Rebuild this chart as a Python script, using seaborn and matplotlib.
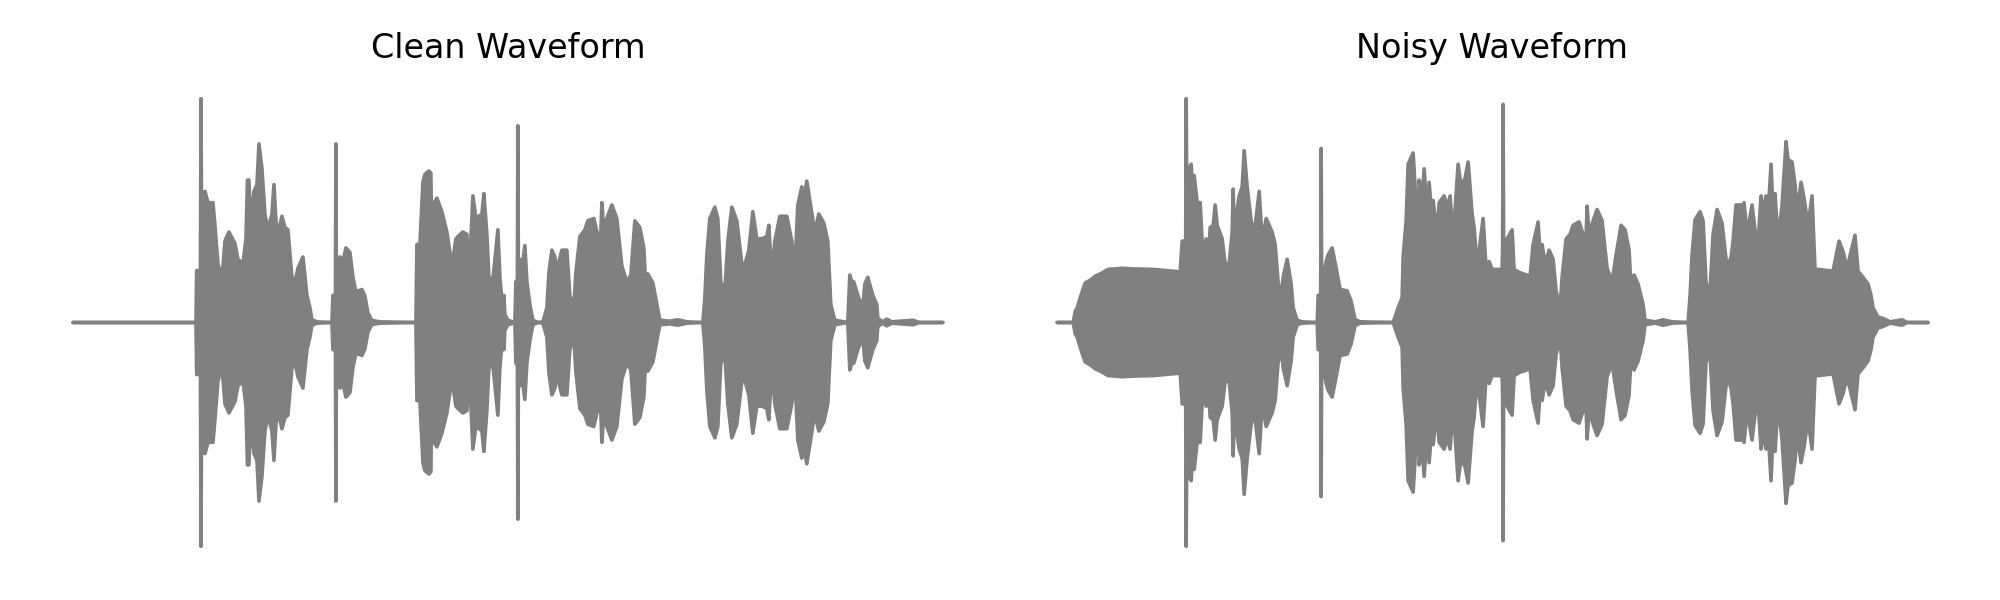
import numpy as np
import pandas as pd
import matplotlib
matplotlib.use('Agg')
import matplotlib.pyplot as plt
import seaborn as sns

# Waveform envelopes: time (s) and normalised amplitude
clean_time = [0, 1.23, 1.237, 1.26, 1.275, 1.28, 1.285, 1.32, 1.35, 1.40, 1.42, 1.45, 1.49, 1.52, 1.56, 1.62, 1.65, 1.70, 1.73, 1.745, 1.76, 1.775,
              1.81, 1.84, 1.86, 1.89, 1.92, 1.95, 1.99, 2.01, 2.03, 2.05, 2.09, 2.12, 2.15, 2.19, 2.22, 2.25, 2.30, 2.34, 2.37, 2.39, 2.44, 2.59,
              2.60, 2.625, 2.63, 2.635, 2.67, 2.70, 2.73, 2.77, 2.80, 2.83, 2.89, 2.92, 2.95, 2.99, 3.07, 3.43, 3.44, 3.47, 3.50, 3.52, 3.56, 3.58, 3.59,
              3.60, 3.64, 3.69, 3.74, 3.79, 3.83, 3.85, 3.90, 3.94, 3.96, 4.00, 4.03, 4.09, 4.11, 4.14, 4.16, 4.20, 4.25, 4.27, 4.30, 4.31, 4.32, 4.35,
              4.42, 4.43, 4.445, 4.45, 4.455, 4.47, 4.49, 4.52, 4.54, 4.57, 4.60, 4.65, 4.70, 4.74, 4.76, 4.79, 4.82, 4.84, 4.89, 4.94, 4.97, 5.01, 5.03,
              5.07, 5.12, 5.15, 5.21, 5.25, 5.28, 5.29, 5.31, 5.34, 5.39, 5.44, 5.49, 5.54, 5.58, 5.62, 5.67, 5.71, 5.73, 5.75, 5.80, 5.84, 5.87, 5.97,
              6.05, 6.14, 6.30, 6.32, 6.34, 6.37, 6.42, 6.45, 6.48, 6.52, 6.55, 6.59, 6.64, 6.69, 6.71, 6.76, 6.80, 6.84, 6.89, 6.94, 6.96, 6.99, 7.02,
              7.07, 7.14, 7.19, 7.22, 7.25, 7.29, 7.31, 7.34, 7.37, 7.42, 7.46, 7.51, 7.55, 7.58, 7.62, 7.75, 7.77, 7.79, 7.81, 7.85, 7.90, 7.92, 7.95,
              8.00, 8.04, 8.05, 8.10, 8.14, 8.19, 8.40, 8.47, 8.70]
clean_amp = [0, 0, .23, .23, .23, .99, .55, .58, .53, .53, .43, .26, .19, .36, .40, .35, .28, .26, .37, .63, .63, .43,
             .58, .61, .79, .68, .48, .41, .48, .61, .45, .39, .47, .42, .41, .20, .18, .24, .29, .12, .065, .013, .003, 0,
             .12, .12, .79, .12, .29, .27, .33, .31, .20, .136, .146, .116, .043, .009, .003, 0, .345, .345, .62, .655, .67, .66, .30,
             .52, .55, .49, .40, .25, .37, .38, .40, .39, .175, .56, .46, .48, .57, .39, .20, .19, .41, .20, .05, .12, .035, .01,
             0, .18, .19, .87, .19, .28, .24, .34, .18, .08, .01, 0, .003, .065, .22, .32, .29, .23, .32, .32, .12, .065, .22,
             .38, .41, .45, .46, .38, .40, .53, .40, .46, .52, .46, .25, .18, .21, .45, .42, .33, .15, .215, .175, .08, .01, .006,
             .012, .003, 0, .11, .30, .46, .51, .46, .18, .14, .36, .51, .45, .26, .24, .32, .49, .37, .37, .38, .43, .20, .36,
             .47, .47, .36, .23, .52, .60, .55, .625, .54, .40, .48, .44, .36, .08, .01, 0, .21, .18, .18, .12, .065, .17, .20,
             .12, .08, .018, .003, .015, .003, .01, 0, 0]

noisy_time = [0, .16, .18, .20, .23, .26, .28, .33, .38, .43, .51, .58, .65, .76, .96, 1.23, 1.25, 1.27, 1.285, 1.29, 1.295, 1.32, 1.34, 1.36, 1.37, 1.40, 1.43,
              1.46, 1.49, 1.51, 1.53, 1.56, 1.58, 1.60, 1.65, 1.68, 1.72, 1.75, 1.76, 1.77, 1.82, 1.85, 1.87, 1.90, 1.94, 1.97, 2.02, 2.05, 2.09, 2.15,
              2.18, 2.21, 2.24, 2.26, 2.30, 2.34, 2.36, 2.40, 2.45, 2.60, 2.61, 2.635, 2.64, 2.645, 2.69, 2.71, 2.75, 2.79, 2.83, 2.90, 2.94, 2.98, 3.03,
              3.36, 3.41, 3.45, 3.46, 3.49, 3.51, 3.56, 3.58, 3.61, 3.62, 3.65, 3.67, 3.70, 3.72, 3.75, 3.76, 3.80, 3.82, 3.87, 3.90, 3.93, 3.96, 4.01,
              4.04, 4.08, 4.11, 4.15, 4.17, 4.20, 4.26, 4.29, 4.32, 4.35, 4.45, 4.455, 4.46, 4.465, 4.50, 4.55, 4.57, 4.63, 4.73, 4.76, 4.81, 4.83, 4.85,
              4.88, 4.92, 4.96, 4.99, 5.03, 5.05, 5.09, 5.13, 5.16, 5.22, 5.26, 5.29, 5.30, 5.32, 5.36, 5.40, 5.45, 5.50, 5.55, 5.59, 5.64, 5.68, 5.72,
              5.74, 5.77, 5.81, 5.86, 5.88, 5.98, 6.06, 6.15, 6.31, 6.33, 6.35, 6.38, 6.43, 6.46, 6.49, 6.53, 6.56, 6.60, 6.65, 6.70, 6.74, 6.76, 6.79,
              6.84, 6.85, 6.87, 6.90, 6.95, 6.99, 7.00, 7.02, 7.04, 7.06, 7.09, 7.11, 7.14, 7.16, 7.18, 7.21, 7.25, 7.28, 7.29, 7.31, 7.35, 7.38, 7.40,
              7.44, 7.47, 7.51, 7.55, 7.58, 7.61, 7.76, 7.80, 7.82, 7.86, 7.90, 7.95, 7.98, 8.01, 8.06, 8.11, 8.14, 8.16, 8.21, 8.26, 8.33, 8.45, 8.50, 8.71]
noisy_amp = [0, 0, .05, .065, .11, .15, .175, .187, .205, .215, .235, .237, .24, .237, .235, .224, .36, .36, .36, .99, .625, .68, .70, .54, .65, .53, .53,
             .27, .37, .27, .42, .43, .52, .43, .37, .26, .26, .40, .59, .41, .56, .60, .76, .60, .45, .39, .58, .36, .46, .40,
             .345, .175, .12, .20, .28, .17, .065, .01, .003, 0, .12, .12, .77, .15, .27, .30, .33, .24, .146, .14, .094, .013, .003,
             0, .065, .11, .29, .45, .70, .75, .60, .33, .63, .55, .68, .48, .62, .45, .54, .39, .53, .56, .51, .56, .37, .70,
             .60, .64, .71, .48, .42, .25, .46, .235, .27, .235, .235, .33, .965, .33, .37, .41, .235, .22, .205, .345, .445, .30, .345,
             .26, .32, .28, .14, .065, .20, .37, .39, .43, .445, .39, .38, .515, .39, .45, .50, .45, .24, .18, .30, .43, .41, .32,
             .146, .21, .17, .08, .01, .003, .012, .003, 0, .12, .30, .455, .49, .45, .175, .14, .39, .50, .44, .24, .29, .36, .52,
             .52, .42, .53, .39, .52, .37, .21, .42, .56, .48, .56, .48, .70, .48, .57, .36, .52, .73, .80, .72, .71, .61, .49,
             .62, .55, .43, .56, .235, .235, .227, .315, .36, .315, .24, .33, .386, .227, .20, .17, .12, .065, .024, .018, .003, .012, 0, 0]

titles = ['Clean Waveform', 'Noisy Waveform']
wave_color = '#808080'


def plot_waveform(ax, time, amp, title):
    df = pd.DataFrame({'time': time, 'amp': amp})
    df['neg'] = -df['amp']
    sns.lineplot(data=df, x='time', y='amp', ax=ax, color=wave_color, linewidth=1.3, sort=False, estimator=None)
    sns.lineplot(data=df, x='time', y='neg', ax=ax, color=wave_color, linewidth=1.3, sort=False, estimator=None)
    ax.fill_between(df['time'], df['neg'], df['amp'], color=wave_color, linewidth=0)
    ax.set_xlim(-0.435, 9.135)
    ax.set_ylim(-1.1, 1.1)
    ax.set_title(title, fontsize=12, color='black', pad=5.6)
    ax.axis('off')


sns.set_theme(style='white')
plt.rcParams['font.family'] = ['DejaVu Sans']

fig, axes = plt.subplots(1, 2, figsize=(10, 3))
fig.subplots_adjust(left=0.01475, right=0.98525, bottom=0.048, top=0.877, wspace=0.0287)
plot_waveform(axes[0], clean_time, clean_amp, titles[0])
plot_waveform(axes[1], noisy_time, noisy_amp, titles[1])
fig.savefig('out.png', dpi=200)
